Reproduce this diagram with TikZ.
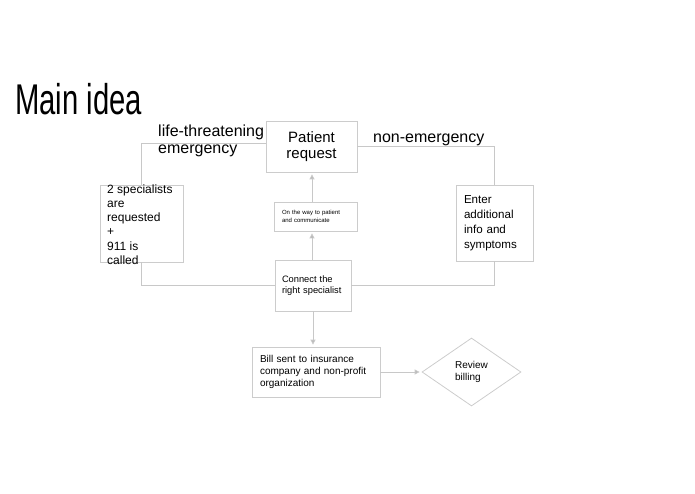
\documentclass[tikz,border=0pt]{standalone}
\usepackage{fontspec}
\setmainfont{Liberation Sans}
\newfontfamily\titlefont[FakeStretch=0.68]{Liberation Sans}
\usetikzlibrary{arrows.meta,shapes.geometric}

\tikzset{
    box/.style={draw=box_gray, line width=0.8pt, inner sep=0pt, align=left},
    link/.style={draw=line_gray, line width=0.9pt},
    flow/.style={link, -{Triangle[width=5pt,length=5pt,fill=head_gray]}, shorten >=2pt}
}

\begin{document}
\begin{tikzpicture}[x=1pt, y=-1pt]
    \definecolor{box_gray}{HTML}{CCCCCC}
    \definecolor{line_gray}{HTML}{C8C8C8}
    \definecolor{head_gray}{HTML}{B4B4B4}
    \useasboundingbox (0,0) rectangle (695,494);
    %\draw[help lines] (0,0) grid[step=50] (695,494);

    \node[anchor=base west, inner sep=0, font=\titlefont\fontsize{43}{48}\selectfont] (title) at (15,115) {Main idea};

    % boxes
    \node[box, minimum width=91, minimum height=51, align=center, font=\fontsize{15}{16.5}\selectfont] (req) at (311.5,146.5)
        {Patient\\request};
    \node[box, minimum width=83, minimum height=77] (spec) at (141.5,223.5) {};
    \node[anchor=north west, inner sep=0, align=left, font=\fontsize{12}{14.2}\selectfont] (spec_txt) at (107,184.5)
        {2 specialists\\are\\requested\\+\\911 is\\called};
    \node[box, minimum width=77, minimum height=76, text width=61, font=\fontsize{11.6}{15}\selectfont] (info) at (494.5,223)
        {Enter\\additional\\info and\\symptoms};
    \node[box, minimum width=83, minimum height=29, text width=67, font=\fontsize{6}{8.4}\selectfont] (way) at (315.5,216.5)
        {On the way to patient\\and communicate};
    \node[box, minimum width=76, minimum height=51, text width=62, font=\fontsize{9.3}{11}\selectfont] (conn) at (313,285.5)
        {Connect the\\right specialist};
    \node[box, minimum width=128, minimum height=50, text width=112, font=\fontsize{10}{12}\selectfont] (bill) at (316,372)
        {Bill sent to insurance\\company and non-profit\\organization};
    \node[box, diamond, minimum width=99, minimum height=68, font=\fontsize{10}{12.5}\selectfont] (rev) at (471.5,372)
        {Review\\billing};

    % labels
    \node[anchor=north west, inner sep=0, align=left, font=\fontsize{16}{17}\selectfont] (life_lbl) at (158,125)
        {life-threatening\\emergency};
    \node[anchor=base west, inner sep=0, font=\fontsize{16}{17}\selectfont] (non_lbl) at (373,143)
        {non-emergency};

    % connectors
    \draw[link] (spec.north) |- ([yshift=3.5pt]req.west);
    \draw[link] (req.east) -| (info.north);
    \draw[link] (conn.west) -| (spec.south);
    \draw[link] (conn.east) -| (info.south);
    \draw[flow] ([xshift=-1pt]conn.north) -- ([xshift=-1pt]conn.north |- way.south);
    \draw[flow] ([xshift=-1pt]conn.north |- way.north) -- ([xshift=-1pt]conn.north |- req.south);
    \draw[flow] (conn.south) -- (conn.south |- bill.north);
    \draw[flow] (bill.east) -- (rev.west);
\end{tikzpicture}
\end{document}
